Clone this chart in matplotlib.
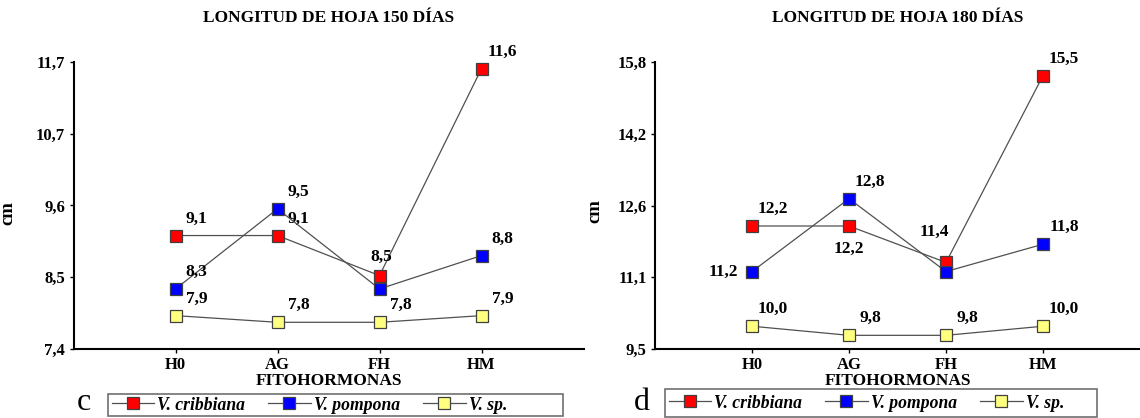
import numpy as np
import matplotlib
matplotlib.use('Agg')
import matplotlib.pyplot as plt
from matplotlib.patches import Rectangle

plt.rcParams['font.family'] = ['Liberation Serif', 'DejaVu Serif']
plt.rcParams['font.weight'] = 'bold'

# DATOS
categorias = ['H0', 'AG', 'FH', 'HM']
especies = ['V. cribbiana', 'V. pompona', 'V. sp.']

hoja150_cribbiana = [9.1, 9.1, 8.5, 11.6]
hoja150_pompona = [8.3, 9.5, 8.3, 8.8]
hoja150_sp = [7.9, 7.8, 7.8, 7.9]

hoja180_cribbiana = [12.2, 12.2, 11.4, 15.5]
hoja180_pompona = [11.2, 12.8, 11.2, 11.8]
hoja180_sp = [10.0, 9.8, 9.8, 10.0]

ticks150 = ['7,4', '8,5', '9,6', '10,7', '11,7']
ticks180 = ['9,5', '11,1', '12,6', '14,2', '15,8']

colores = ['#ff0000', '#0000ff', '#ffff80']

W, H = 1140, 418
fig = plt.figure(figsize=(W / 100, H / 100), dpi=100)


def ejes(l, t, r, b):
    return fig.add_axes([l / W, 1 - b / H, (r - l) / W, (b - t) / H])


# desplazamiento de etiquetas (pixeles); None = sin etiqueta
d = (21, 17)
off150 = [[d, d, (2, 19), d], [d, d, None, d], [d, d, d, d]]
off180 = [[d, (0, -23), (-12, 31), d], [(-29, 0), d, None, d], [d, d, d, d]]


def panel(ax, series, offs, titulo, ticklab, ymin, ymax):
    x = np.arange(1, len(categorias) + 1)
    for s, col, nom, off in zip(series, colores, especies, offs):
        ax.plot(x, s, '-', color='#505050', lw=0.9, marker='s', ms=8.2,
                mfc=col, mec='#404040', mew=0.9, label=nom, zorder=3)
        for xi, yi, o in zip(x, s, off):
            if o is None:
                continue
            ax.annotate(f'{yi:.1f}'.replace('.', ','), (xi, yi), xytext=o,
                        textcoords='offset pixels', ha='center', va='center',
                        fontsize=12.5, fontweight='bold')
    ax.set_xlim(0, 5)
    ax.set_ylim(ymin, ymax)
    ax.set_xticks(x)
    ax.set_xticklabels(categorias, fontsize=12, fontweight='bold')
    ax.set_yticks(np.linspace(ymin, ymax, 5))
    ax.set_yticklabels(ticklab, fontsize=12, fontweight='bold')
    ax.tick_params(length=3, width=1, pad=3)
    for sp in ['top', 'right']:
        ax.spines[sp].set_visible(False)
    for sp in ['left', 'bottom']:
        ax.spines[sp].set_linewidth(1.5)
    pos = ax.get_position()
    fig.text((pos.x0 + pos.x1) / 2, 1 - 18 / H, titulo, fontsize=12.5,
             fontweight='bold', ha='center', va='center')
    ax.set_xlabel('FITOHORMONAS', fontsize=12.5, fontweight='bold', labelpad=0)
    ax.set_ylabel('cm', fontsize=13.5, fontweight='bold')


ax1 = ejes(73.5, 62, 583.5, 349)
panel(ax1, [hoja150_cribbiana, hoja150_pompona, hoja150_sp], off150,
      'LONGITUD DE HOJA 150 DÍAS', ticks150, 7.4, 11.7)
ax1.yaxis.set_label_coords(16 / W, 205 / H, transform=fig.transFigure)

ax2 = ejes(655, 62, 1140, 349)
panel(ax2, [hoja180_cribbiana, hoja180_pompona, hoja180_sp], off180,
      'LONGITUD DE HOJA 180 DÍAS', ticks180, 9.5, 15.8)
ax2.yaxis.set_label_coords(603 / W, 207 / H, transform=fig.transFigure)

# leyendas con recuadro
for ax, (l, t, r, b), letra, (lx, ly) in [(ax1, (108, 394, 563, 416), 'c', (84, 403)),
                                         (ax2, (665, 389, 1097, 417), 'd', (642, 403))]:
    fig.patches.append(Rectangle((l / W, 1 - b / H), (r - l) / W, (b - t) / H,
                                 transform=fig.transFigure, fill=False,
                                 ec='#707070', lw=1.2))
    h, lab = ax.get_legend_handles_labels()
    fig.legend(h, lab, loc='center left', bbox_to_anchor=(l / W, 1 - (t + b) / 2 / H),
               ncol=3, frameon=False, handlelength=2.4, handletextpad=0.2,
               columnspacing=1.3, borderpad=0, borderaxespad=0.2,
               prop={'size': 12.7, 'weight': 'bold', 'style': 'italic'})
    fig.text(lx / W, 1 - ly / H, letra, fontsize=23, fontweight='normal',
             ha='center', va='center')

fig.savefig('out.png', dpi=100)
